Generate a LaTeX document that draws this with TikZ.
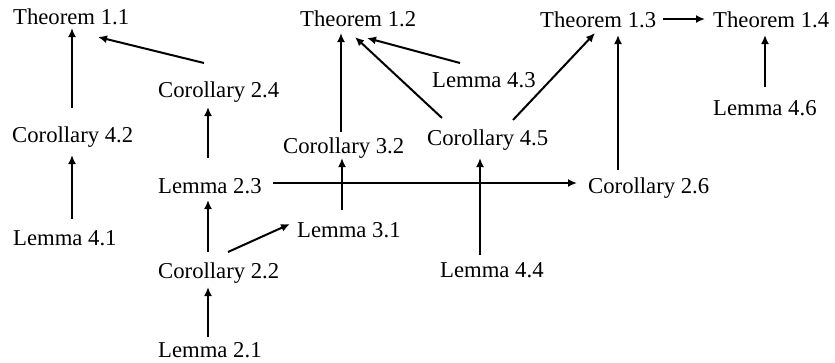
\documentclass[tikz,border=0pt]{standalone}
\usepackage{fontspec}
\setmainfont{Liberation Serif}
\usetikzlibrary{arrows.meta,calc}
\tikzset{
  lbl/.style={inner sep=0pt, anchor=base west, font=\fontsize{22.7}{27}\selectfont},
  arr/.style={-{Latex[length=9pt,width=8pt]}, line width=2pt}
}
\begin{document}
\begin{tikzpicture}[x=1pt,y=-1pt]
\useasboundingbox (0,0) rectangle (835,362);
\fill[white] (0,0) rectangle (835,362);
\node[lbl] (t11) at (13,24) {Theorem 1.1};
\node[lbl] (t12) at (300,26) {Theorem 1.2};
\node[lbl] (t13) at (540,27) {Theorem 1.3};
\node[lbl] (t14) at (713,27) {Theorem 1.4};
\node[lbl] (c24) at (158,97) {Corollary 2.4};
\node[lbl] (c42) at (12,142) {Corollary 4.2};
\node[lbl] (l43) at (432,87) {Lemma 4.3};
\node[lbl] (c32) at (283,153) {Corollary 3.2};
\node[lbl] (c45) at (427,145) {Corollary 4.5};
\node[lbl] (l46) at (713,115) {Lemma 4.6};
\node[lbl] (l23) at (158,193) {Lemma 2.3};
\node[lbl] (c26) at (588,193) {Corollary 2.6};
\node[lbl] (l41) at (13,245) {Lemma 4.1};
\node[lbl] (l31) at (297,237) {Lemma 3.1};
\node[lbl] (c22) at (158,278) {Corollary 2.2};
\node[lbl] (l44) at (440,277) {Lemma 4.4};
\node[lbl] (l21) at (158,357) {Lemma 2.1};

\draw[arr] ($(c42.base west)+(60,-34)$) -- ($(t11.base west)+(59,4)$);
\draw[arr] ($(c24.base west)+(46,-34)$) -- ($(t11.base west)+(85,13)$);
\draw[arr] ($(l23.base west)+(50,-35)$) -- ($(c24.base west)+(50,10)$);
\draw[arr] ($(l41.base west)+(59,-26)$) -- ($(c42.base west)+(60,13)$);
\draw[arr] ($(c22.base west)+(50,-26)$) -- ($(l23.base west)+(50,7)$);
\draw[arr] ($(l21.base west)+(50,-20)$) -- ($(c22.base west)+(50,9)$);
\draw[arr] ($(c22.base west)+(70,-26)$) -- ($(l31.base west)+(-7,-13)$);
\draw[arr] ($(l23.base west)+(115,-10)$) -- ($(c26.base west)+(-11,-10)$);
\draw[arr] ($(l31.base west)+(45,-27)$) -- ($(c32.base west)+(59,5)$);
\draw[arr] ($(c32.base west)+(58,-21)$) -- ($(t12.base west)+(41,7)$);
\draw[arr] ($(c45.base west)+(15,-27)$) -- ($(t12.base west)+(55,11)$);
\draw[arr] ($(l43.base west)+(28,-24)$) -- ($(t12.base west)+(67,12)$);
\draw[arr] ($(c45.base west)+(86,-25)$) -- ($(t13.base west)+(55,6)$);
\draw[arr] ($(c26.base west)+(30,-23)$) -- ($(t13.base west)+(78,8)$);
\draw[arr] ($(l44.base west)+(40,-22)$) -- ($(c45.base west)+(53,13)$);
\draw[arr] ($(t13.base west)+(123,-8)$) -- ($(t14.base west)+(-8,-8)$);
\draw[arr] ($(l46.base west)+(52,-28)$) -- ($(t14.base west)+(52,8)$);
\end{tikzpicture}
\end{document}
